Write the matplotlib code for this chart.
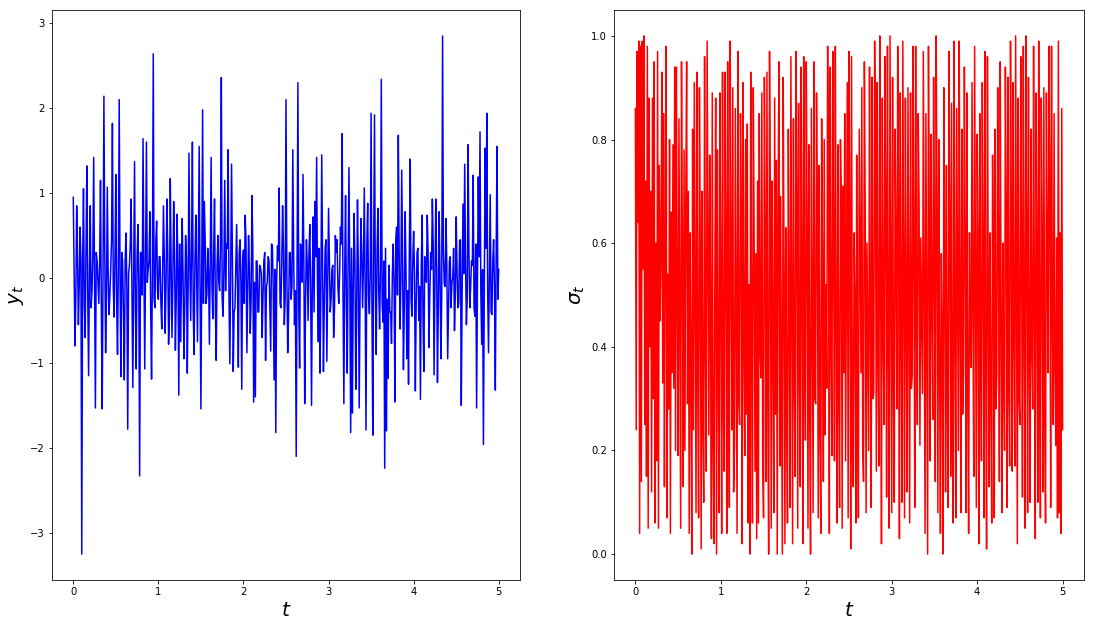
import numpy as np
import matplotlib
matplotlib.use("Agg")
import matplotlib.pyplot as plt

# time grid: 0..5 in steps of 0.01
t = np.linspace(0, 5, 501)

# y_t, on the even steps (t = 0, 0.02, ...)
y_even = [0.95, -0.80, 0.85, -0.55, 0.60, -3.25, 1.05, -0.70, 1.32, -1.15,
          0.85, -0.15, 1.42, -1.53, 0.20, -0.30, 1.15, -1.54, 2.14, -0.88,
          1.07, -0.43, 0.10, 1.82, -0.46, 1.22, -0.90, 2.10, -1.16, 0.20,
          -1.20, 0.53, -1.78, 0.15, 0.93, -1.29, 1.37, -1.07, 0.63, -2.33,
          0.30, 1.64, -1.07, 1.60, 0.10, 0.78, -1.19, 2.64, -0.35, 0.67,
          -0.25, 0.25, -0.60, 0.85, -0.65, 0.93, -0.78, 1.17, -0.70, 0.90,
          -0.85, 0.75, -1.38, -0.75, 0.70, -0.95, 0.50, -1.12, 1.47, -0.50,
          1.60, -0.90, 0.74, -0.75, 1.55, -1.54, 1.98, 0.90, -0.30, 0.35,
          -0.78, 1.42, -0.48, 0.93, -0.97, 0.50, -0.15, 2.36, -0.45, 1.15,
          0.40, 1.51, -1.01, 1.34, -1.10, -0.35, 0.63, -1.05, 0.45, -1.31,
          0.33, 0.74, -0.88, 0.50, -0.65, 0.97, -1.46, -1.40, 0.20, -0.40,
          0.12, -0.70, 0.20, -0.97, -0.05, 0.20, -0.86, 0.38, -1.20, -1.82,
          0.38, 1.06, -0.35, 0.85, -0.55, 2.10, -0.88, 0.30, -0.25, 1.51,
          -0.55, -2.10, 2.30, -1.06, 0.35, 1.22, -1.48, 0.45, -0.50, 0.63,
          -1.50, 0.72, 0.90, 1.42, -0.75, -1.12, 1.45, -1.10, 0.35, -0.98,
          0.82, -0.40, 0.10, -0.70, 0.50, 0.45, -0.30, 0.60, 1.70, -1.48,
          0.97, -1.12, 1.30, -1.82, -1.59, 0.76, -1.31, 0.92, -1.53, 0.70,
          -0.35, 1.06, -1.79, 0.88, -0.42, 1.94, -1.85, 1.92, -0.90, 0.82,
          -0.60, 2.34, -0.52, -2.24, -1.80, -1.18, -0.40, -0.77, 0.40, -1.46,
          0.60, 1.68, -0.60, 1.27, -1.08, 0.78, -0.95, -1.25, 1.40, -0.45,
          0.55, -1.33, 0.30, -0.50, -1.43, 0.74, -1.10, 0.15, 0.74, -0.82,
          0.30, 0.93, -1.14, 0.93, -1.23, 0.78, -0.95, 2.85, -0.07, 0.70,
          -0.95, 0.20, -0.35, 0.00, -0.62, 0.72, -0.35, 0.44, -1.50, 0.87,
          1.34, -0.55, 1.57, -0.35, 0.20, 1.21, -0.45, -1.53, 1.19, 1.72,
          -0.78, -1.96, 1.53, 1.94, -0.88, 0.98, -0.43, 0.45, -1.32, 1.55,
          0.10]

# the small wiggles in between (t = 0.01, 0.03, ...)
y_odd = [0.10, -0.25, 0.30, -0.10, 0.20, 0.15, -0.30, 0.40, -0.20, 0.05,
         -0.35, 0.25, -0.15, 0.30, -0.05, 0.20, -0.40, 0.10, 0.35, -0.25,
         0.05, -0.20, 0.45, -0.10, 0.25, -0.30, 0.15, -0.05, 0.30, -0.45,
         0.20, -0.15, 0.05, 0.40, -0.25, 0.10, -0.35, 0.25, -0.10, 0.30,
         -0.20, 0.15, 0.35, -0.05, 0.20, -0.40, 0.10, -0.25, 0.45, -0.15,
         0.25, -0.30, 0.05, 0.20, -0.10, 0.35, -0.45, 0.15, -0.05, 0.30,
         -0.25, 0.10, 0.40, -0.20, 0.05, -0.35, 0.25, -0.10, 0.15, 0.30,
         -0.40, 0.20, -0.05, 0.35, -0.15, 0.10, -0.30, 0.45, -0.20, 0.05,
         0.25, -0.10, 0.30, -0.35, 0.15, -0.05, 0.40, -0.25, 0.10, -0.15,
         0.35, -0.20, 0.05, 0.25, -0.40, 0.15, -0.10, 0.30, -0.05, 0.20,
         -0.30, 0.45, -0.15, 0.10, -0.25, 0.35, -0.05, 0.20, -0.40, 0.15,
         0.05, -0.20, 0.30, -0.10, 0.25, -0.35, 0.40, -0.15, 0.10, -0.05,
         0.20, -0.30, 0.15, 0.35, -0.25, 0.05, -0.45, 0.30, -0.10, 0.25,
         -0.15, 0.10, -0.35, 0.40, -0.05, 0.20, -0.25, 0.15, 0.30, -0.20,
         0.05, -0.40, 0.25, -0.10, 0.35, -0.15, 0.10, -0.30, 0.45, -0.05,
         0.20, -0.25, 0.15, -0.35, 0.30, -0.10, 0.05, 0.40, -0.20, 0.10,
         -0.30, 0.25, -0.05, 0.35, -0.15, 0.20, -0.45, 0.10, -0.25, 0.30,
         0.15, -0.10, 0.40, -0.20, 0.05, -0.35, 0.25, -0.05, 0.30, -0.15,
         0.10, -0.30, 0.20, 0.35, -0.25, 0.15, -0.40, 0.05, -0.10, 0.45,
         -0.20, 0.30, -0.05, 0.25, -0.35, 0.10, -0.15, 0.40, -0.25, 0.20,
         0.05, -0.30, 0.35, -0.10, 0.15, -0.45, 0.25, -0.05, 0.30, -0.20,
         0.10, 0.40, -0.15, 0.20, -0.35, 0.05, -0.25, 0.30, -0.10, 0.15,
         -0.40, 0.25, -0.05, 0.35, -0.20, 0.10, -0.30, 0.45, -0.15, 0.05,
         0.20, -0.25, 0.30, -0.10, 0.15, -0.35, 0.40, -0.05, 0.25, -0.20,
         0.10, -0.30, 0.35, -0.15, 0.05, -0.40, 0.20, -0.10, 0.30, -0.25]

# sigma_t, every step (t = 0, 0.01, ...)
sigma = [0.86, 0.24, 0.97, 0.64, 0.99, 0.04, 0.98, 0.14, 0.99, 0.55,
         1.00, 0.25, 0.72, 0.15, 0.98, 0.05, 0.88, 0.40, 0.70, 0.12,
         0.88, 0.30, 0.95, 0.06, 0.60, 0.18, 0.97, 0.05, 0.75, 0.45,
         0.58, 0.93, 0.33, 0.85, 0.13, 0.62, 0.98, 0.07, 0.54, 0.28,
         0.80, 0.04, 0.66, 0.35, 0.79, 0.32, 0.94, 0.20, 0.94, 0.50,
         0.19, 0.84, 0.42, 0.05, 0.95, 0.60, 0.13, 0.78, 0.20, 0.68,
         0.95, 0.29, 0.70, 0.04, 0.62, 0.37, 0.00, 0.82, 0.24, 0.91,
         0.48, 0.08, 0.93, 0.33, 0.07, 0.90, 0.58, 0.01, 0.70, 0.25,
         0.10, 0.96, 0.40, 0.16, 0.99, 0.63, 0.23, 0.77, 0.45, 0.03,
         0.89, 0.20, 0.02, 0.54, 0.88, 0.00, 0.78, 0.35, 0.08, 0.89,
         0.52, 0.04, 0.93, 0.27, 0.16, 0.93, 0.61, 0.04, 0.95, 0.40,
         0.09, 0.99, 0.56, 0.24, 0.90, 0.12, 0.21, 0.86, 0.47, 0.04,
         0.97, 0.30, 0.25, 0.85, 0.66, 0.02, 0.91, 0.41, 0.19, 0.80,
         0.27, 0.83, 0.06, 0.52, 0.00, 0.93, 0.44, 0.06, 0.90, 0.62,
         0.16, 0.58, 0.03, 0.72, 0.06, 0.85, 0.39, 0.34, 0.89, 0.18,
         0.07, 0.92, 0.60, 0.14, 0.93, 0.28, 0.00, 0.97, 0.65, 0.05,
         0.72, 0.42, 0.08, 0.88, 0.27, 0.76, 0.00, 0.66, 0.95, 0.17,
         0.69, 0.35, 0.00, 0.92, 0.55, 0.02, 0.63, 0.30, 0.06, 0.82,
         0.48, 0.09, 0.96, 0.50, 0.02, 0.84, 0.33, 0.15, 0.97, 0.70,
         0.05, 0.87, 0.36, 0.13, 0.94, 0.55, 0.02, 0.96, 0.40, 0.22,
         0.95, 0.63, 0.05, 0.79, 0.28, 0.00, 0.86, 0.45, 0.08, 0.95,
         0.30, 0.29, 0.89, 0.66, 0.07, 0.75, 0.24, 0.04, 0.84, 0.55,
         0.14, 0.80, 0.23, 0.52, 0.32, 0.98, 0.70, 0.04, 0.94, 0.42,
         0.19, 0.97, 0.60, 0.18, 0.98, 0.44, 0.06, 0.79, 0.30, 0.09,
         0.80, 0.68, 0.05, 0.71, 0.35, 0.85, 0.18, 0.55, 0.91, 0.07,
         0.97, 0.65, 0.01, 0.96, 0.20, 0.13, 0.62, 0.49, 0.06, 0.77,
         0.31, 0.07, 0.82, 0.58, 0.35, 0.90, 0.21, 0.14, 0.95, 0.66,
         0.08, 0.60, 0.41, 0.20, 0.94, 0.47, 0.09, 0.92, 0.30, 0.31,
         0.99, 0.75, 0.16, 0.91, 0.37, 0.17, 1.00, 0.55, 0.02, 0.88,
         0.44, 0.25, 0.96, 0.69, 0.11, 0.98, 0.40, 0.05, 1.00, 0.52,
         0.08, 0.92, 0.33, 0.10, 0.82, 0.60, 0.28, 0.98, 0.65, 0.03,
         0.89, 0.45, 0.10, 0.99, 0.55, 0.07, 0.88, 0.46, 0.12, 0.90,
         0.50, 0.06, 0.89, 0.32, 0.35, 0.98, 0.57, 0.09, 0.98, 0.44,
         0.25, 0.85, 0.68, 0.21, 0.61, 0.45, 0.31, 0.97, 0.50, 0.04,
         0.85, 0.43, 0.00, 0.98, 0.62, 0.18, 0.81, 0.48, 0.26, 0.92,
         0.58, 0.14, 1.00, 0.66, 0.08, 0.80, 0.36, 0.04, 0.58, 0.42,
         0.00, 0.90, 0.57, 0.12, 0.75, 0.29, 0.09, 0.97, 0.63, 0.15,
         0.87, 0.24, 0.06, 0.99, 0.45, 0.07, 0.86, 0.54, 0.20, 0.99,
         0.47, 0.08, 0.82, 0.27, 0.35, 0.94, 0.60, 0.08, 0.89, 0.30,
         0.04, 0.62, 0.40, 0.36, 0.91, 0.47, 0.15, 0.98, 0.55, 0.09,
         0.81, 0.60, 0.02, 0.85, 0.40, 0.18, 0.91, 0.58, 0.07, 0.97,
         0.36, 0.01, 0.96, 0.50, 0.13, 0.62, 0.30, 0.06, 0.77, 0.57,
         0.07, 0.82, 0.28, 0.35, 0.90, 0.60, 0.14, 0.95, 0.46, 0.08,
         0.60, 0.35, 0.20, 0.94, 0.67, 0.09, 0.92, 0.31, 0.17, 0.99,
         0.65, 0.16, 0.91, 0.42, 0.17, 1.00, 0.50, 0.02, 0.88, 0.30,
         0.25, 0.96, 0.58, 0.11, 0.98, 0.44, 0.05, 1.00, 0.62, 0.08,
         0.92, 0.38, 0.10, 0.82, 0.40, 0.28, 0.98, 0.47, 0.03, 0.89,
         0.55, 0.10, 0.99, 0.38, 0.07, 0.88, 0.60, 0.12, 0.90, 0.27,
         0.06, 0.89, 0.55, 0.35, 0.98, 0.72, 0.09, 0.98, 0.46, 0.25,
         0.85, 0.36, 0.21, 0.61, 0.07, 0.99, 0.08, 0.62, 0.04, 0.86,
         0.24]

# put the two halves of y back in time order
y = np.empty(len(t))
y[0::2] = y_even
y[1::2] = y_odd

fig = plt.figure(figsize=(1094 / 72, 628 / 72), dpi=72)

ax1 = fig.add_axes([52 / 1094, 48 / 628, 468 / 1094, 570 / 628])
ax1.plot(t, y, color='b', linewidth=1.5)
ax1.set_xlabel('$t$', fontsize=20)
ax1.set_ylabel('$y_t$', fontsize=20)

ax2 = fig.add_axes([614 / 1094, 48 / 628, 470 / 1094, 570 / 628])
ax2.plot(t, sigma, color='r', linewidth=1.5)
ax2.set_xlabel('$t$', fontsize=20)
ax2.set_ylabel('$\\sigma_t$', fontsize=20)

fig.savefig('out.png', dpi=72)
